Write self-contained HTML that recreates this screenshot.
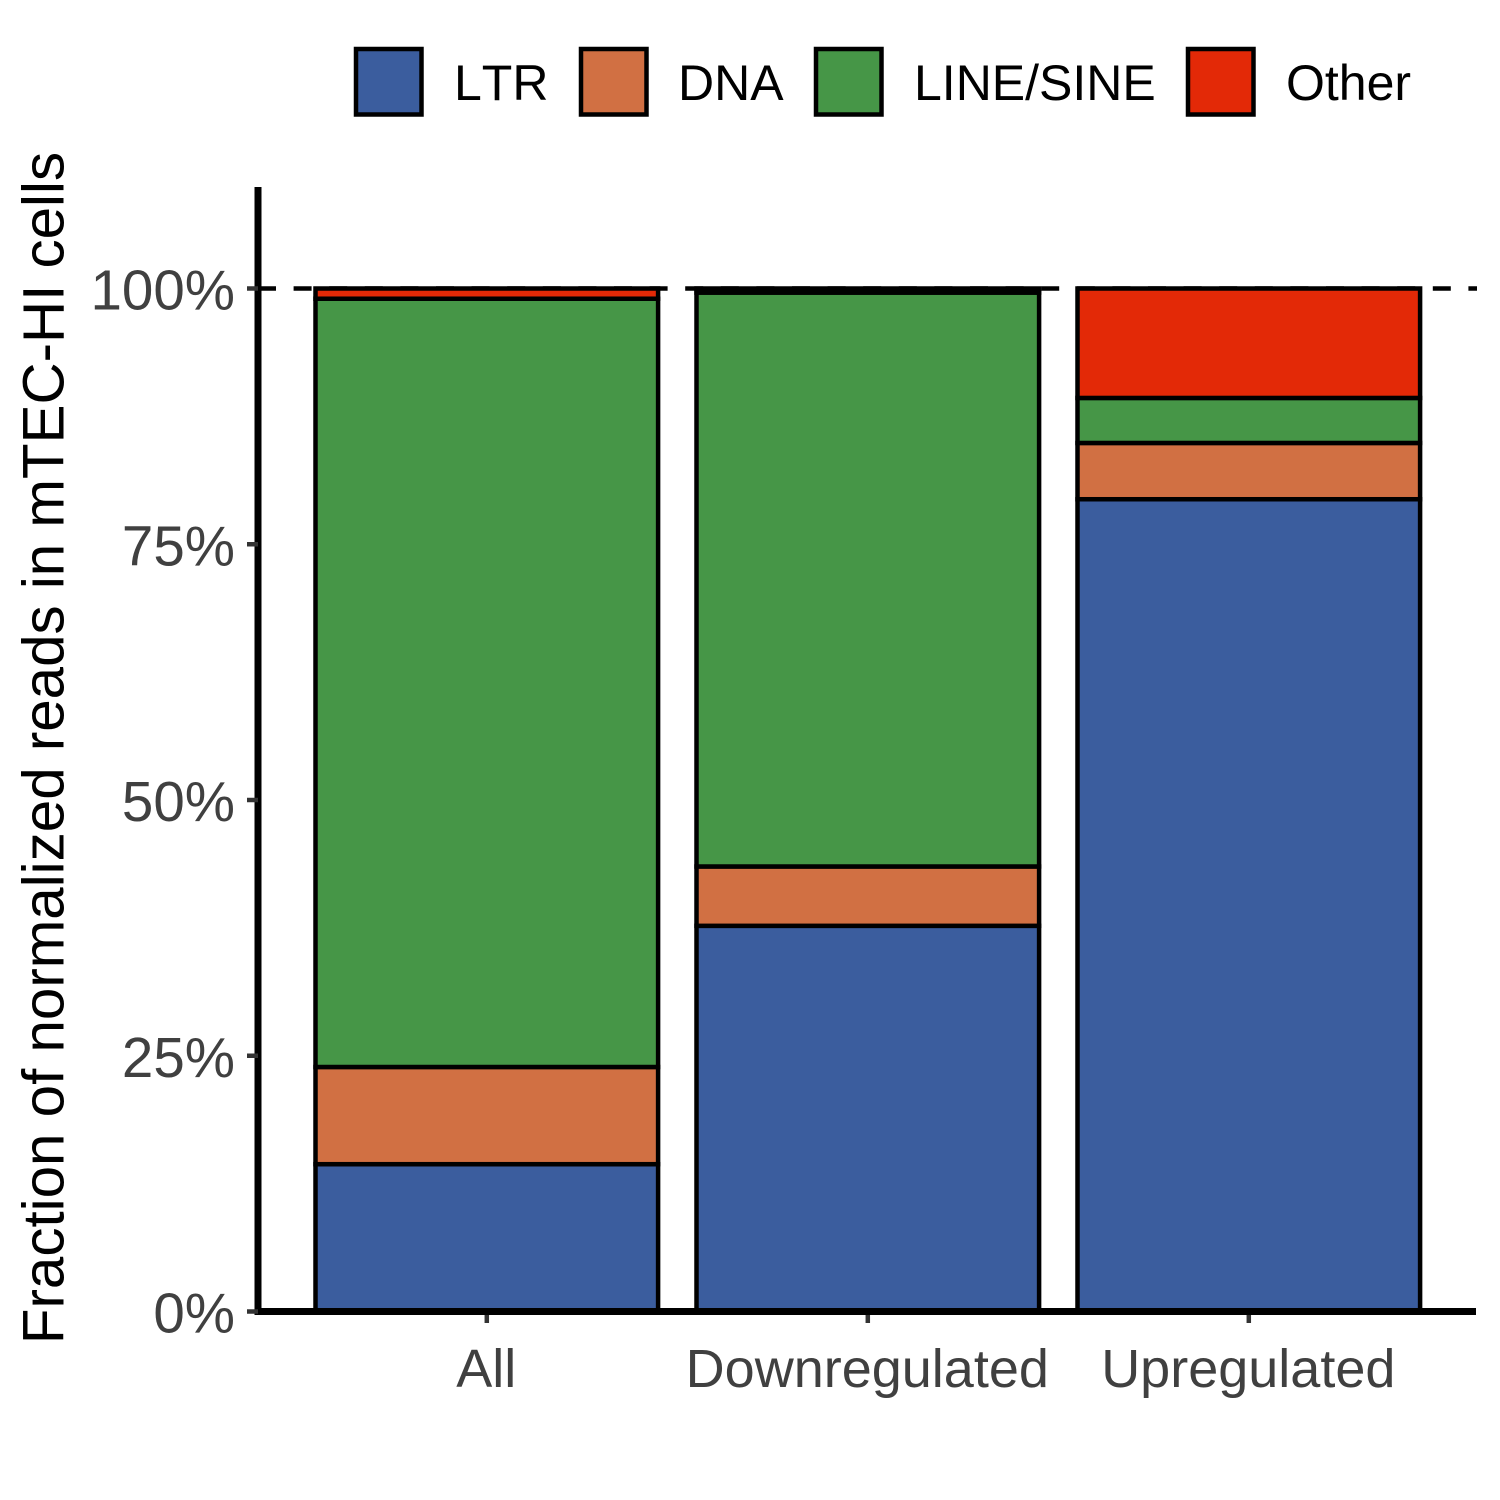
<!DOCTYPE html>
<html>
<head>
<meta charset="utf-8">
<title>Fraction of normalized reads</title>
<style>
html,body{margin:0;padding:0;background:#fff;width:1500px;height:1500px;overflow:hidden}
svg{display:block}
text{font-family:"Liberation Sans",Arial,sans-serif}
</style>
</head>
<body>
<svg id="chart" xmlns="http://www.w3.org/2000/svg" width="1500" height="1500" viewBox="0 0 1500 1500"></svg>
<script>
const categories = ["All", "Downregulated", "Upregulated"];
const seriesNames = ["LTR", "DNA", "LINE/SINE", "Other"];
const ltrValues = [14.4, 37.7, 79.4];
const dnaValues = [9.5, 5.8, 5.5];
const lineSineValues = [75.1, 56.1, 4.4];
const otherValues = [1.0, 0.4, 10.7];
const yTicks = [0, 25, 50, 75, 100];
const referenceLine = [100];

const seriesValues = [ltrValues, dnaValues, lineSineValues, otherValues];
const colors = ["#3B5D9E", "#D17043", "#469647", "#E32907"];
const svg = document.getElementById('chart');
const NS = 'http://www.w3.org/2000/svg';

function yScale(v) { return 1311.5 - v * 10.23; }
function xCenter(i) { return 486.8 + i * 381; }
const barWidth = 342.6;

function make(tag, attrs, text) {
  const el = document.createElementNS(NS, tag);
  for (const k in attrs) el.setAttribute(k, attrs[k]);
  if (text !== undefined) el.textContent = text;
  svg.appendChild(el);
  return el;
}
function slug(s) { return s.toLowerCase().replace(/[^a-z0-9]+/g, '-'); }

// reference line behind the bars
referenceLine.forEach(function (v) {
  const el = make('line', {x1: 258, x2: 1477, y1: yScale(v), y2: yScale(v), stroke: '#000', 'stroke-width': 4.5, 'stroke-dasharray': '18 17.6'});
  
  
});

// bars
categories.forEach(function (cat, i) {
  let cumulative = 0;
  seriesValues.forEach(function (vals, s) {
    const top = yScale(cumulative + vals[i]);
    const bottom = yScale(cumulative);
    const el = make('rect', {x: xCenter(i) - barWidth / 2, y: top, width: barWidth, height: bottom - top, fill: colors[s], stroke: '#000', 'stroke-width': 4.5});
    
    
    cumulative += vals[i];
  });
});

// axes
const yAxis = make('line', {x1: 258, x2: 258, y1: 187, y2: 1315, stroke: '#000', 'stroke-width': 7});


const xAxis = make('line', {x1: 258, x2: 1476, y1: 1311.5, y2: 1311.5, stroke: '#000', 'stroke-width': 7});



// y ticks
yTicks.forEach(function (t) {
  const tick = make('line', {x1: 247, x2: 258, y1: yScale(t), y2: yScale(t), stroke: '#333', 'stroke-width': 4.5});
  
  
  const label = make('text', {x: 235, y: yScale(t) + 21, 'text-anchor': 'end', 'font-size': 56.5, fill: '#404040'}, t + '%');
  
  
});

// x ticks
categories.forEach(function (cat, i) {
  const tick = make('line', {x1: xCenter(i), x2: xCenter(i), y1: 1315, y2: 1323, stroke: '#333', 'stroke-width': 4.5});
  
  
  const label = make('text', {x: xCenter(i) - 0.5, y: 1387, 'text-anchor': 'middle', 'font-size': 54, fill: '#404040'}, cat);
  
  
});

// y-axis title
const yTitle = make('text', {transform: 'translate(63.5 748) rotate(-90)', 'text-anchor': 'middle', 'font-size': 58.3, fill: '#000'}, 'Fraction of normalized reads in mTEC-HI cells');



// legend
const legendKeyX = [356, 581, 816, 1188];
const legendTextX = [454, 678, 914, 1286];
seriesNames.forEach(function (name, s) {
  const key = make('rect', {x: legendKeyX[s], y: 49, width: 65.5, height: 65.5, fill: colors[s], stroke: '#000', 'stroke-width': 4.5});
  
  
  const label = make('text', {x: legendTextX[s], y: 100, 'font-size': 50, fill: '#000', style: 'font-kerning:none'}, name);
  
  
});
</script>
</body>
</html>
